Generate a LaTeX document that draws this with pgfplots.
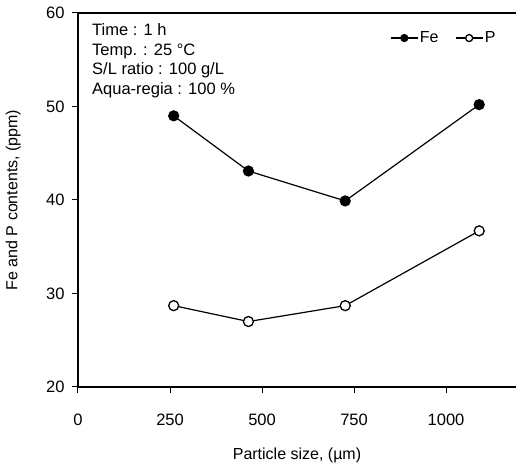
\documentclass[border=0pt]{standalone}
\usepackage{fontspec}
\setmainfont{Liberation Sans}
\usepackage{pgfplots}
\pgfplotsset{compat=1.18}
\begin{document}
\begin{tikzpicture}
\path[use as bounding box] (-78pt,-83pt) rectangle (439pt,387pt);
\begin{axis}[
  at={(0pt,0pt)}, anchor=south west,
  scale only axis,
  width=438pt, height=374pt,
  xmin=0, xmax=1190, ymin=20, ymax=60,
  axis lines=left,
  axis line style={-, line width=1.6pt},
  xtick={0,250,500,750,1000},
  ytick={20,30,40,50,60},
  tick align=outside,
  major tick length=6pt,
  tick style={line width=1pt, black},
  /pgf/number format/assume math mode=true,
  /pgf/number format/1000 sep={},
  tick label style={font=\fontsize{16.5}{19}\selectfont},
  xticklabel style={yshift=-17pt},
  yticklabel style={xshift=-4pt},
  xlabel={Particle size, (µm)},
  ylabel={Fe and P contents, (ppm)},
  label style={font=\fontsize{16}{19}\selectfont},
  xlabel style={at={(axis description cs:0.5,-0.182)}, anchor=center},
  ylabel style={at={(axis description cs:-0.148,0.5)}, anchor=center},
  legend columns=2,
  legend style={draw=none, fill=none, at={(0.957,0.933)}, anchor=east,
    inner sep=0pt, font=\fontsize{16}{19}\selectfont,
    /tikz/every even column/.append style={column sep=15pt},
    nodes={inner sep=1.5pt}},
  legend image code/.code={\draw[mark repeat=2,mark phase=2,#1,mark size=3.5pt] plot coordinates {(0pt,0pt)(13.5pt,0pt)(27pt,0pt)};},
  clip=false,
]
\draw[line width=1.6pt] (rel axis cs:0,1) -- (rel axis cs:1,1);
\addplot[black, line width=1.2pt, mark=*, mark size=5pt, mark options={fill=black}]
  coordinates {(260,49.0) (463,43.1) (726,39.9) (1090,50.2)};
\addlegendentry{Fe}
\addplot[black, line width=1.2pt, mark=*, mark size=5pt, mark options={fill=white, line width=1.3pt}]
  coordinates {(260,28.7) (463,27.0) (726,28.7) (1090,36.7)};
\addlegendentry{P}
\node[anchor=north west, align=left, inner sep=0pt, font=\fontsize{16.5}{19.5}\selectfont]
  at (rel axis cs:0.032,0.972) {Time : 1 h\\Temp. : 25 \textdegree{}C\\S/L ratio : 100 g/L\\Aqua-regia : 100 \%};
\end{axis}
\end{tikzpicture}
\end{document}
